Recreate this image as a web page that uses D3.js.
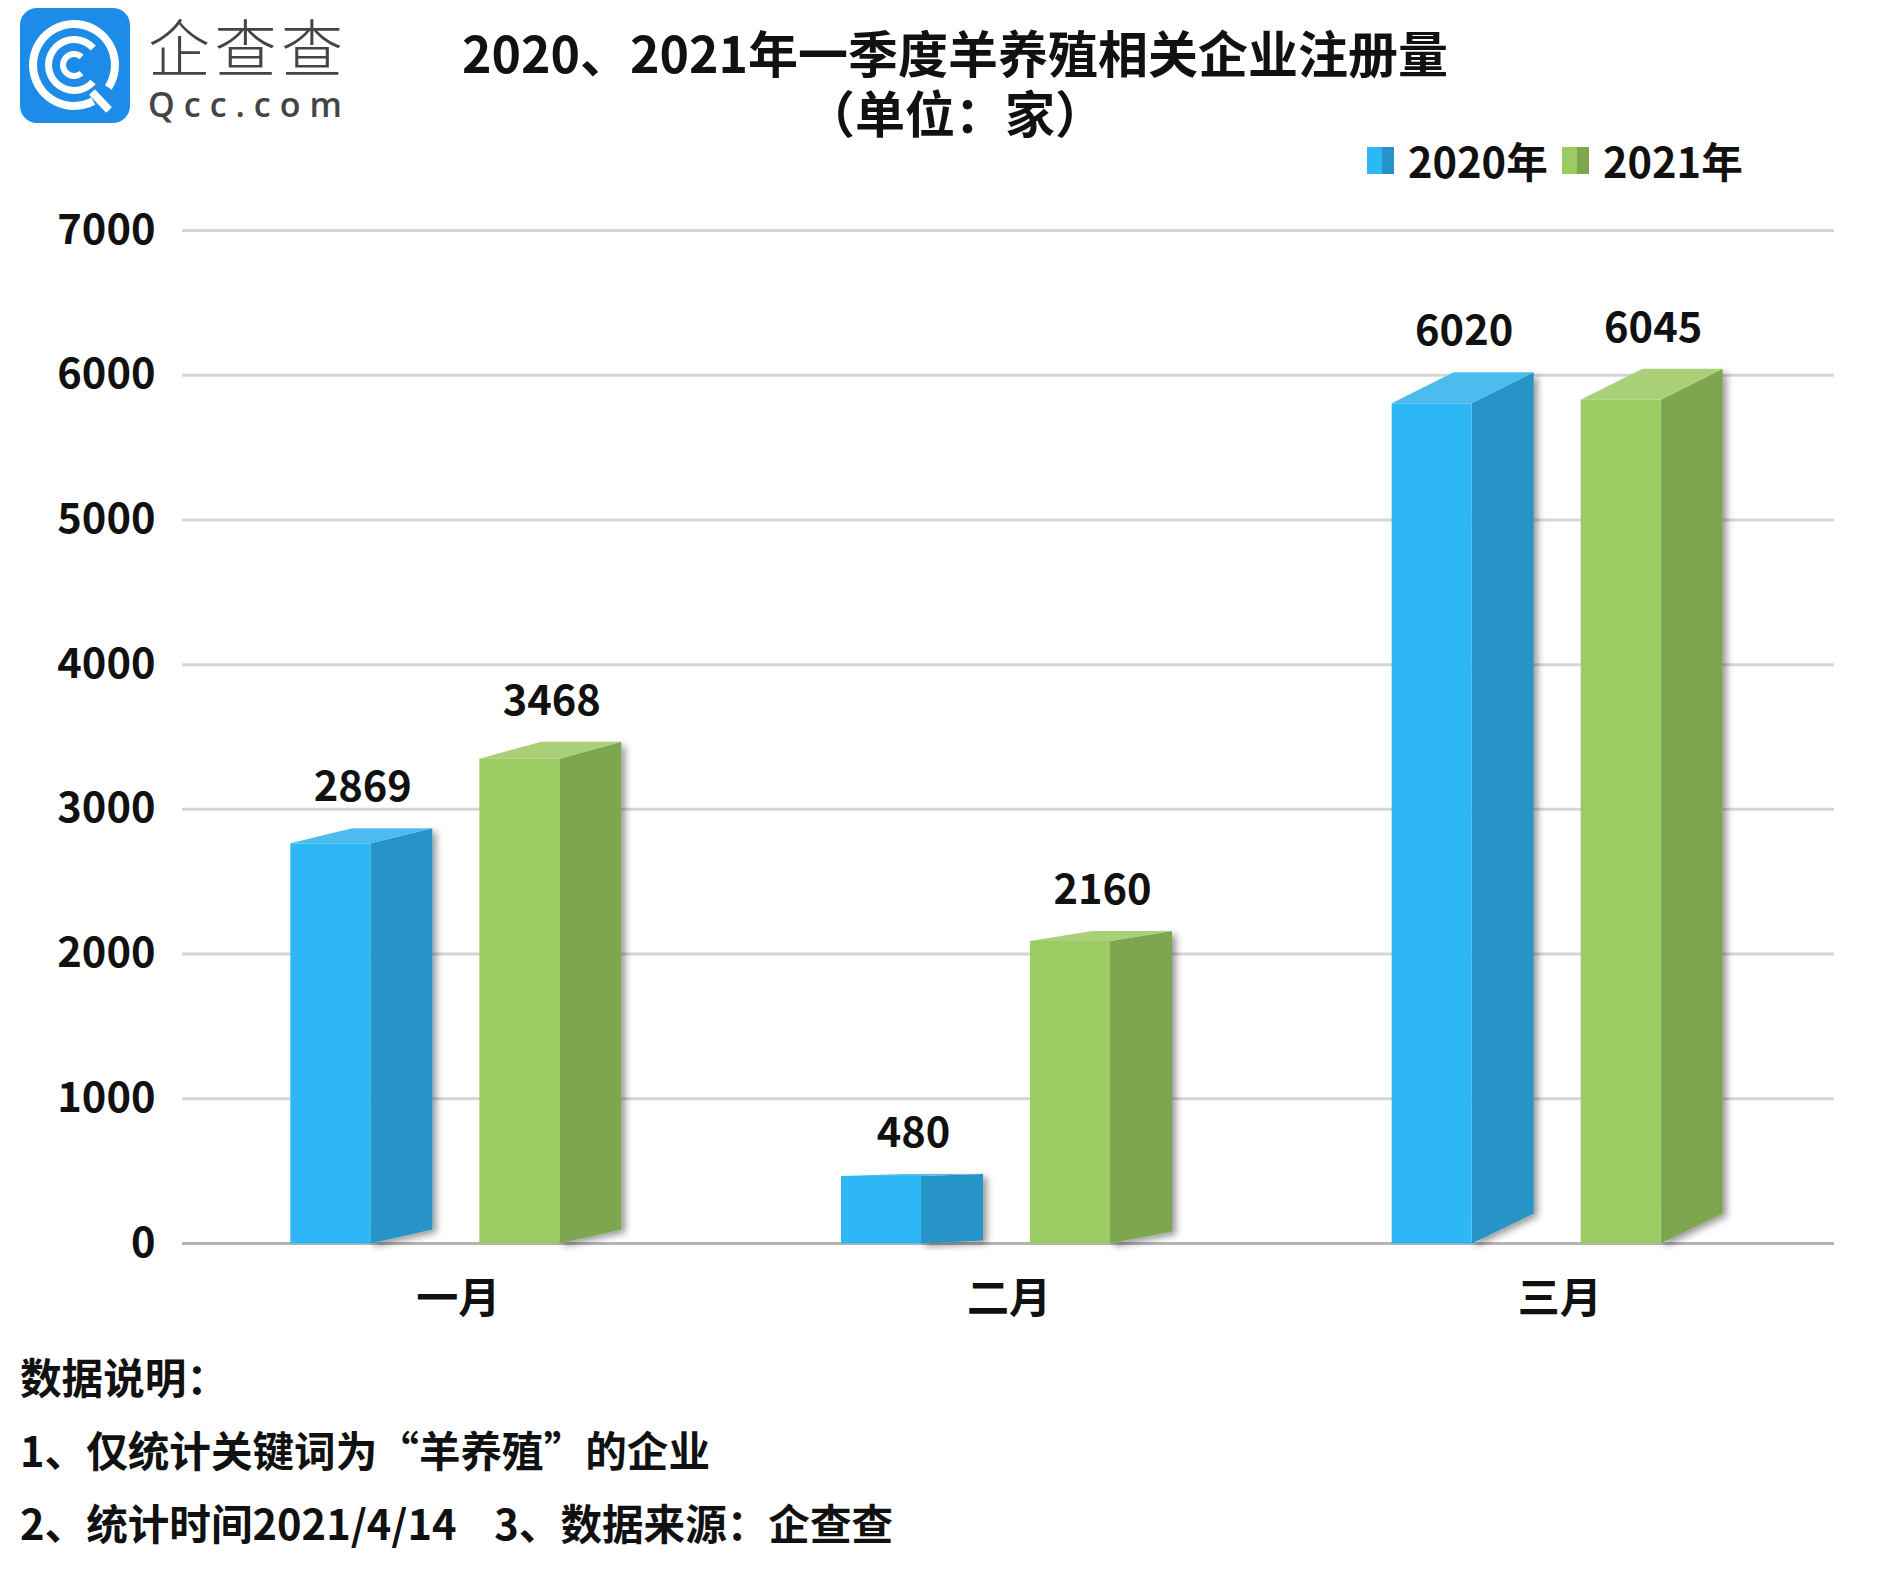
<!DOCTYPE html>
<html><head><meta charset="utf-8">
<script src="https://cdn.jsdelivr.net/npm/d3@7/dist/d3.min.js"></script>
<style>
html,body{margin:0;padding:0;background:#fff}
svg{display:block}
text{font-family:"Noto Sans CJK SC","Noto Sans",sans-serif;fill:#111;font-weight:700}
</style></head><body>
<svg id="c" width="1897" height="1576"></svg>
<script>
const categories=["一月","二月","三月"];
const series=["2020年","2021年"];
const values2020=[2869,480,6020];
const values2021=[3468,2160,6045];
const yTicks=[0,1000,2000,3000,4000,5000,6000,7000];
const titleLines=["2020、2021年一季度羊养殖相关企业注册量","（单位：家）"];
const notes=["数据说明：","1、仅统计关键词为“羊养殖”的企业","2、统计时间2021/4/14    3、数据来源：企查查"];

const svg=d3.select("#c");
const defs=svg.append("defs");
const f=defs.append("filter").attr("id","sh").attr("x","-20%").attr("y","-10%").attr("width","150%").attr("height","120%");
f.append("feDropShadow").attr("dx",4).attr("dy",3).attr("stdDeviation",3.5).attr("flood-color","#000").attr("flood-opacity",0.4);

const y=d3.scaleLinear().domain([0,7000]).range([1243.5,230.5]);
const x0=d3.scaleBand().domain(categories).range([182,1834]);
const barW=80,depth=62;
const colors={front:["#2DB7F5","#9BCB62"],side:["#2594C6","#7EA54F"],top:["#4CBBEE","#A9D077"]};
// perspective rise of the side face for each bar, per category: [2020, 2021]
const riseTop=[[15,17],[2,10],[31,31]];
const riseBot=[[14,14],[3,12],[30,30]];

// grid
const yAxis=d3.axisLeft(y).tickValues(yTicks).tickSize(0).tickPadding(26.5).tickFormat(d3.format("d"));
const gy=svg.append("g").attr("transform","translate(182,-2)").call(yAxis);
gy.select(".domain").remove();
gy.selectAll("text").attr("font-size",41.6).attr("dy","0.35em").attr("fill","#111");
svg.append("g").selectAll("line").data(yTicks).join("line")
 .attr("x1",182).attr("x2",1834).attr("y1",d=>y(d)).attr("y2",d=>y(d))
 .attr("stroke",d=>d===0?"#b4b4b4":"#d4d6d6").attr("stroke-width",3);

// bars
const groupCenter=c=>x0(c)+x0.bandwidth()/2;
[values2020,values2021].forEach((vals,s)=>{
 const g=svg.append("g");
 categories.forEach((c,i)=>{
  const cx=groupCenter(c)+2;
  const xl=s===0?cx-169:cx+20;
  const xm=xl+barW,xr=xm+depth;
  const backY=y(vals[i]),frontY=backY+riseTop[i][s],base=y(0),backBase=base-riseBot[i][s];
  g.append("path").attr("filter","url(#sh)").attr("fill",colors.side[s])
   .attr("d",`M${xm},${frontY}L${xr},${backY}L${xr},${backBase}L${xm},${base}Z`);
  g.append("path").attr("fill",colors.top[s])
   .attr("d",`M${xl},${frontY}L${xl+depth},${backY}L${xr},${backY}L${xm},${frontY}Z`);
  g.append("rect").attr("x",xl).attr("y",frontY).attr("width",barW).attr("height",base-frontY).attr("fill",colors.front[s]);
  g.append("text").attr("x",xl+72.5).attr("y",backY-27).attr("text-anchor","middle").attr("font-size",41.6).text(vals[i]);
 });
});

// category labels
svg.append("g").selectAll("text").data(categories).join("text")
 .attr("x",d=>groupCenter(d)+1).attr("y",1313).attr("text-anchor","middle").attr("font-size",42).text(d=>d);

// title
const title=svg.append("text").attr("text-anchor","middle").attr("font-size",50);
title.selectAll("tspan").data(titleLines).join("tspan")
 .attr("x",955).attr("y",(d,i)=>73+i*60).text(d=>d);

// legend
const lgX=[1367,1562];
series.forEach((n,i)=>{
 const l=svg.append("g");
 l.append("rect").attr("x",lgX[i]).attr("y",147).attr("width",15).attr("height",27).attr("fill",colors.front[i]);
 l.append("rect").attr("x",lgX[i]+15).attr("y",147).attr("width",12).attr("height",27).attr("fill",colors.side[i]);
 l.append("text").attr("x",lgX[i]+41).attr("y",178).attr("font-size",41.6).text(n);
});

// notes
svg.append("g").selectAll("text").data(notes).join("text")
 .attr("x",20).attr("y",(d,i)=>1394+i*73).attr("font-size",41.6).style("white-space","pre").text(d=>d);

// logo
const lg=svg.append("g");
lg.append("rect").attr("x",20).attr("y",8).attr("width",110).attr("height",115).attr("rx",17).attr("fill","#1C8CE8");
const arc=d3.arc();
const logoArcs=[[45,37,2.65,Math.PI*2+2.15],[29,22,2.3,Math.PI*2+0.85],[14,8,2.4,Math.PI*2+0.75]];
logoArcs.forEach(([o,n,a0,a1])=>{
 lg.append("path").attr("transform","translate(74,65)").attr("fill","#fff")
  .attr("d",arc({innerRadius:n,outerRadius:o,startAngle:a0,endAngle:a1}));
});
lg.append("path").attr("d","M92,92L109,110").attr("stroke","#fff").attr("stroke-width",8);
const logoText=lg.append("text");
logoText.append("tspan").attr("x",148).attr("y",72).attr("font-size",62).attr("letter-spacing",4.5)
 .style("font-weight",300).style("fill","#444").text("企查查");
logoText.append("tspan").attr("x",148).attr("y",117).attr("font-size",34).attr("letter-spacing",9)
 .style("fill","#444").style("font-weight",600).style("font-family","'Open Sans'").text("Qcc.com");
</script></body></html>
